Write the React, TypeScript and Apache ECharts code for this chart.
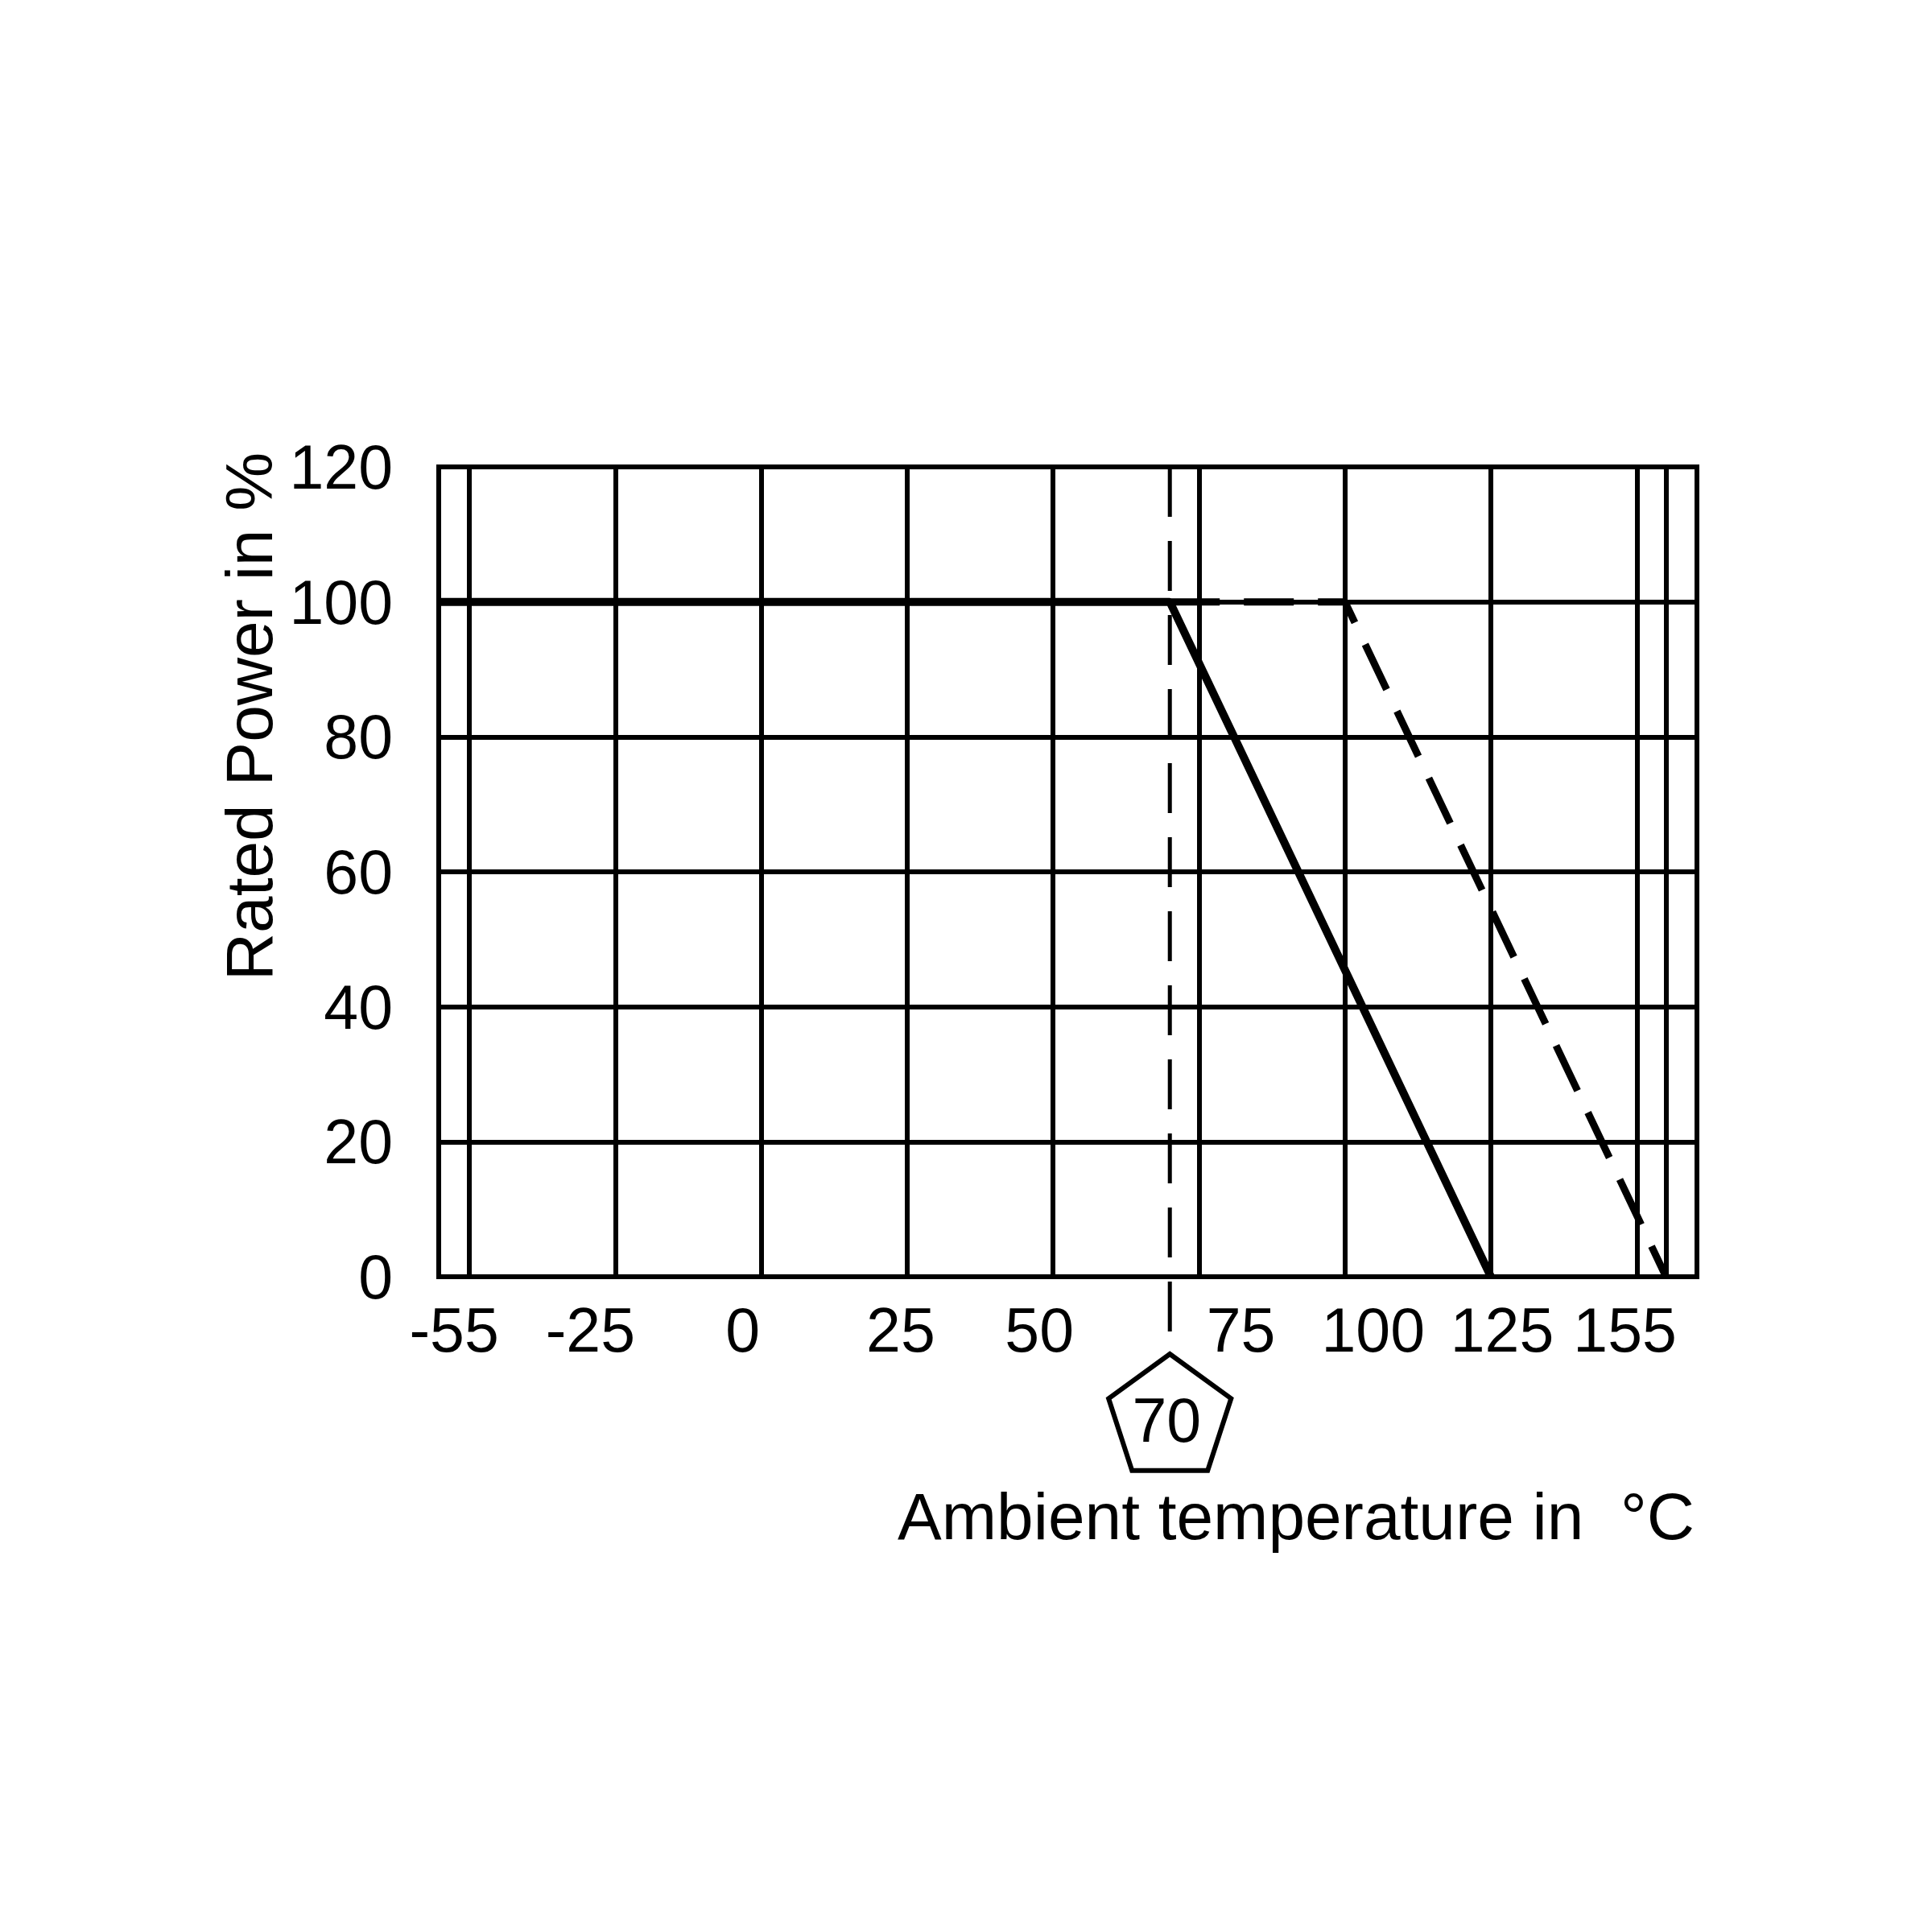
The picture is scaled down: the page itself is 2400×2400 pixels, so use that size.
import React, { useEffect, useRef } from 'react';
import * as echarts from 'echarts';

// ---- data ----
const gridTemps = [-55, -25, 0, 25, 50, 75, 100, 125, 150, 155];
const labelTemps = [-55, -25, 0, 25, 50, 75, 100, 125, 155];
const yTicks = [0, 20, 40, 60, 80, 100, 120];
const ratedTemp = 70;
const xMin = -60.25;
const xMax = 160.3;
const standardCurve: [number, number][] = [[xMin, 100], [70, 100], [125, 0]];
const extendedCurve: [number, number][] = [[70, 100], [100, 100], [155, 0]];
const xTitle = 'Ambient temperature in  °C';
const yTitle = 'Rated Power in %';

// ---- styles ----
const FONT = 'Liberation Sans, Arial, Helvetica, sans-serif';
const labelShift = [-19, -31, -23, -8, -17, 52, 35, 14, -51];
const NUM_SIZE = 77;
const TITLE_SIZE = 82;

export default function App() {
  const ref = useRef<HTMLDivElement>(null);
  useEffect(() => {
    if (!ref.current) return;
    const chart = echarts.init(ref.current, undefined, { renderer: 'svg' });
    const rich: Record<string, any> = {};
    labelShift.forEach((s, i) => {
      rich['s' + i] = {
        fontSize: NUM_SIZE,
        fontFamily: FONT,
        color: '#000',
        padding: s < 0 ? [0, -2 * s, 0, 0] : [0, 0, 0, 2 * s],
      };
    });
    chart.setOption({
      animation: false,
      backgroundColor: '#fff',
      grid: {
        left: 545,
        top: 580,
        right: 2400 - 2108,
        bottom: 2400 - 1586,
        show: true,
        borderColor: '#000',
        borderWidth: 6,
        backgroundColor: 'transparent',
      },
      xAxis: {
        type: 'value',
        min: xMin,
        max: xMax,
        breaks: [{ start: -55, end: -50, gap: 0 }],
        breakArea: { show: false },
        axisLine: { show: false },
        axisTick: { show: false, customValues: gridTemps },
        splitLine: { show: true, lineStyle: { color: '#000', width: 6 } },
        axisLabel: {
          customValues: labelTemps,
          margin: 66,
          verticalAlign: 'middle',
          fontSize: NUM_SIZE,
          fontFamily: FONT,
          color: '#000',
          formatter: (v: number) => {
            const i = labelTemps.indexOf(v);
            return i < 0 ? '' : `{s${i}|${v}}`;
          },
          rich,
        },
      },
      yAxis: {
        type: 'value',
        min: yTicks[0],
        max: yTicks[yTicks.length - 1],
        interval: yTicks[1] - yTicks[0],
        axisLine: { show: false },
        axisTick: { show: false },
        splitLine: { show: true, lineStyle: { color: '#000', width: 6 } },
        axisLabel: { margin: 57, fontSize: NUM_SIZE, fontFamily: FONT, color: '#000' },
      },
      series: [
        {
          type: 'line',
          data: extendedCurve,
          symbol: 'none',
          z: 3,
          lineStyle: { color: '#000', width: 9, type: [62, 30] },
        },
        {
          type: 'line',
          data: standardCurve,
          symbol: 'none',
          z: 4,
          lineStyle: { color: '#000', width: 10, type: 'solid' },
        },
      ],
    });

    const x70 = chart.convertToPixel({ xAxisIndex: 0 }, ratedTemp) as number;
    const yTop = chart.convertToPixel({ yAxisIndex: 0 }, yTicks[yTicks.length - 1]) as number;
    const yBot = chart.convertToPixel({ yAxisIndex: 0 }, yTicks[0]) as number;
    const xRight = chart.convertToPixel({ xAxisIndex: 0 }, xMax) as number;
    const cx = x70;
    const cy = yBot + 176;
    const R = 80;
    const pts: number[][] = [];
    for (let k = 0; k < 5; k++) {
      const a = -Math.PI / 2 + (k * 2 * Math.PI) / 5;
      pts.push([cx + R * Math.cos(a), cy + R * Math.sin(a)]);
    }
    chart.setOption({
      graphic: [
        {
          type: 'line',
          z: 10,
          shape: { x1: x70, y1: yTop, x2: x70, y2: yBot + 78 },
          style: { stroke: '#000', lineWidth: 5, lineDash: [62, 30] },
        },
        {
          type: 'polygon',
          z: 10,
          shape: { points: pts },
          style: { fill: '#fff', stroke: '#000', lineWidth: 6 },
        },
        {
          type: 'text',
          z: 11,
          x: cx - 4,
          y: cy + 2,
          style: {
            text: String(ratedTemp),
            fontSize: NUM_SIZE,
            fontFamily: FONT,
            fill: '#000',
            align: 'center',
            verticalAlign: 'middle',
            textAlign: 'center',
            textVerticalAlign: 'middle',
          },
        },
        {
          type: 'text',
          z: 11,
          x: xRight - 3,
          y: yBot + 297,
          style: {
            text: xTitle,
            fontSize: TITLE_SIZE,
            fontFamily: FONT,
            fill: '#000',
            align: 'right',
            verticalAlign: 'middle',
            textAlign: 'right',
            textVerticalAlign: 'middle',
          },
        },
        {
          type: 'text',
          z: 11,
          x: 309,
          y: 890,
          rotation: Math.PI / 2,
          style: {
            text: yTitle,
            fontSize: TITLE_SIZE,
            fontFamily: FONT,
            fill: '#000',
            align: 'center',
            verticalAlign: 'middle',
            textAlign: 'center',
            textVerticalAlign: 'middle',
          },
        },
      ],
    });
    return () => chart.dispose();
  }, []);
  return (
    <div
      ref={ref}
      style={{ position: 'fixed', left: 0, top: 0, width: 2400, height: 2400, background: '#fff' }}
    />
  );
}
